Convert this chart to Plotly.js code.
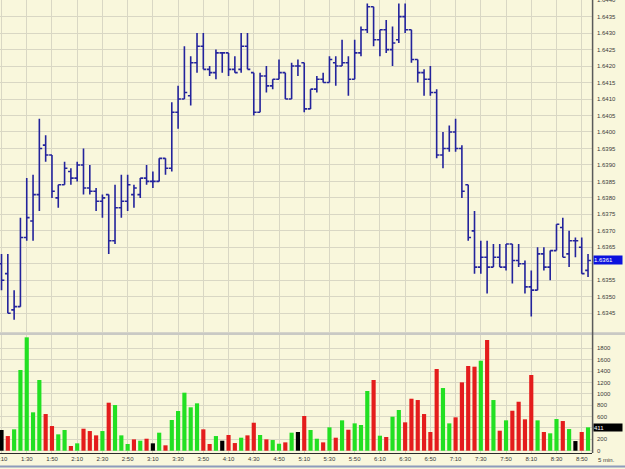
<!DOCTYPE html>
<html>
<head>
<meta charset="utf-8">
<script src="https://cdn.plot.ly/plotly-3.0.1.min.js"></script>
<style>
  html, body { margin: 0; padding: 0; background: #f9f7dc; }
  #chart { width: 625px; height: 469px; }
</style>
</head>
<body>
<div id="chart"></div>
<script>
// 5-minute bars
const times = [
  "1:10","1:15","1:20","1:25","1:30","1:35","1:40","1:45","1:50","1:55",
  "2:00","2:05","2:10","2:15","2:20","2:25","2:30","2:35","2:40","2:45",
  "2:50","2:55","3:00","3:05","3:10","3:15","3:20","3:25","3:30","3:35",
  "3:40","3:45","3:50","3:55","4:00","4:05","4:10","4:15","4:20","4:25",
  "4:30","4:35","4:40","4:45","4:50","4:55","5:00","5:05","5:10","5:15",
  "5:20","5:25","5:30","5:35","5:40","5:45","5:50","5:55","6:00","6:05",
  "6:10","6:15","6:20","6:25","6:30","6:35","6:40","6:45","6:50","6:55",
  "7:00","7:05","7:10","7:15","7:20","7:25","7:30","7:35","7:40","7:45",
  "7:50","7:55","8:00","8:05","8:10","8:15","8:20","8:25","8:30","8:35",
  "8:40","8:45","8:50","8:55"
];

const open = [
  1.6360,1.6357,1.6346,1.6347,1.6368,1.6373,1.6381,1.6396,1.6393,1.6380,
  1.6384,1.6388,1.6386,1.6390,1.6383,1.6382,1.6379,1.6381,1.6367,1.6377,
  1.6379,1.6381,1.6381,1.6386,1.6385,1.6385,1.6392,1.6389,1.6406,1.6410,
  1.6411,1.6421,1.6426,1.6419,1.6418,1.6424,1.6424,1.6419,1.6419,1.6426,
  1.6418,1.6406,1.6417,1.6414,1.6416,1.6418,1.6410,1.6420,1.6421,1.6407,
  1.6413,1.6416,1.6415,1.6421,1.6420,1.6421,1.6416,1.6424,1.6431,1.6438,
  1.6428,1.6431,1.6425,1.6428,1.6435,1.6431,1.6422,1.6418,1.6416,1.6412,
  1.6393,1.6395,1.6400,1.6395,1.6384,1.6370,1.6359,1.6362,1.6359,1.6362,
  1.6359,1.6366,1.6361,1.6360,1.6353,1.6352,1.6363,1.6359,1.6364,1.6371,
  1.6363,1.6367,1.6365,1.6358
];
const high = [
  1.6363,1.6363,1.6352,1.6374,1.6386,1.6387,1.6404,1.6399,1.6393,1.6384,
  1.6391,1.6389,1.6391,1.6395,1.6390,1.6383,1.6381,1.6381,1.6384,1.6387,
  1.6387,1.6384,1.6386,1.6390,1.6388,1.6392,1.6392,1.6409,1.6414,1.6426,
  1.6423,1.6430,1.6430,1.6420,1.6425,1.6424,1.6424,1.6423,1.6430,1.6430,
  1.6418,1.6418,1.6420,1.6416,1.6422,1.6418,1.6421,1.6422,1.6421,1.6413,
  1.6417,1.6418,1.6423,1.6423,1.6428,1.6423,1.6428,1.6432,1.6439,1.6438,
  1.6431,1.6434,1.6432,1.6439,1.6439,1.6431,1.6422,1.6419,1.6420,1.6413,
  1.6400,1.6402,1.6404,1.6396,1.6384,1.6376,1.6367,1.6367,1.6366,1.6366,
  1.6366,1.6366,1.6366,1.6361,1.6358,1.6365,1.6365,1.6364,1.6372,1.6374,
  1.6370,1.6368,1.6368,1.6363
];
const low = [
  1.6352,1.6345,1.6343,1.6347,1.6367,1.6367,1.6376,1.6391,1.6380,1.6377,
  1.6384,1.6384,1.6385,1.6381,1.6381,1.6376,1.6374,1.6363,1.6366,1.6374,
  1.6376,1.6377,1.6380,1.6384,1.6383,1.6385,1.6387,1.6388,1.6401,1.6410,
  1.6408,1.6418,1.6419,1.6417,1.6416,1.6418,1.6417,1.6418,1.6418,1.6419,
  1.6405,1.6406,1.6412,1.6413,1.6416,1.6410,1.6410,1.6417,1.6406,1.6407,
  1.6412,1.6415,1.6415,1.6414,1.6420,1.6411,1.6416,1.6423,1.6430,1.6426,
  1.6423,1.6424,1.6420,1.6427,1.6430,1.6421,1.6415,1.6411,1.6411,1.6392,
  1.6389,1.6394,1.6394,1.6380,1.6367,1.6357,1.6357,1.6351,1.6359,1.6359,
  1.6358,1.6354,1.6359,1.6351,1.6344,1.6352,1.6358,1.6355,1.6364,1.6362,
  1.6359,1.6362,1.6357,1.6356
];
const close = [
  1.6355,1.6345,1.6347,1.6368,1.6374,1.6381,1.6395,1.6393,1.6382,1.6384,
  1.6389,1.6386,1.6390,1.6383,1.6382,1.6379,1.6380,1.6367,1.6377,1.6379,
  1.6384,1.6383,1.6386,1.6385,1.6385,1.6392,1.6389,1.6406,1.6410,1.6412,
  1.6421,1.6426,1.6419,1.6418,1.6424,1.6424,1.6419,1.6418,1.6426,1.6419,
  1.6406,1.6417,1.6414,1.6416,1.6418,1.6410,1.6420,1.6420,1.6407,1.6413,
  1.6416,1.6415,1.6422,1.6420,1.6421,1.6416,1.6424,1.6431,1.6438,1.6428,
  1.6431,1.6425,1.6427,1.6435,1.6431,1.6422,1.6418,1.6416,1.6412,1.6393,
  1.6395,1.6400,1.6395,1.6382,1.6368,1.6359,1.6362,1.6359,1.6362,1.6359,
  1.6366,1.6361,1.6360,1.6353,1.6352,1.6363,1.6359,1.6364,1.6372,1.6362,
  1.6367,1.6367,1.6357,1.6361
];
const volume = [
  364,258,376,1419,1993,675,1243,645,434,288,
  364,83,130,387,346,270,346,844,803,270,
  118,200,176,211,130,317,95,540,698,1020,
  763,833,376,118,258,176,276,135,229,270,
  492,276,200,188,123,147,317,329,610,364,
  211,147,411,229,534,369,481,452,1050,1243,
  264,241,598,716,499,914,891,645,329,1436,
  1102,481,587,1202,1489,1477,1582,1946,891,352,
  534,703,861,552,1331,534,329,306,557,522,
  381,170,329,411
];

const priceTicks = [1.6345,1.6350,1.6355,1.6360,1.6365,1.6370,1.6375,1.6380,1.6385,1.6390,
                    1.6395,1.6400,1.6405,1.6410,1.6415,1.6420,1.6425,1.6430,1.6435,1.6440];
const volumeTicks = [0,200,400,600,800,1000,1200,1400,1600,1800];
const periodLabel = "5 min.";

// volume colour: close vs previous close
const UP = '#22e022', DOWN = '#e41c1c', FLAT = '#000000';
const volColors = close.map((c, i) => {
  if (i === 0) return FLAT;
  const d = Math.round((c - close[i - 1]) * 10000);
  return d > 0 ? UP : (d < 0 ? DOWN : FLAT);
});

const BG = '#f9f7dc';
const GRID = '#d9d7c4';
const TXT = '#3a3a3a';
const FONT = 'Liberation Sans, Arial, sans-serif';

const plotH = 453; // plot area height in px (t=0, b=16)
const toPaperY = px => (plotH - px) / plotH;
const toPaperX = px => px / 592;

const lastClose = close[close.length - 1];
const lastVol = volume[volume.length - 1];

// labels hidden behind the "last value" boxes keep their grid line but no text
const priceText = priceTicks.map(v =>
  Math.abs(v - lastClose) < 0.00015 ? '' : v.toFixed(4));
const volText = volumeTicks.map(v =>
  Math.abs(v - lastVol) < 60 ? '' : String(v));

const traces = [
  {
    type: 'ohlc',
    x: times, open: open, high: high, low: low, close: close,
    xaxis: 'x', yaxis: 'y',
    tickwidth: 0.45,
    increasing: { line: { color: '#23239c', width: 1.6 } },
    decreasing: { line: { color: '#23239c', width: 1.6 } },
    hoverinfo: 'skip',
    showlegend: false
  },
  {
    type: 'bar',
    x: times, y: volume,
    xaxis: 'x', yaxis: 'y2',
    marker: { color: volColors, line: { width: 0 } },
    hoverinfo: 'skip',
    showlegend: false
  }
];

const layout = {
  width: 625, height: 469,
  margin: { l: 0, r: 33, t: 0, b: 16, pad: 0 },
  paper_bgcolor: BG, plot_bgcolor: BG,
  font: { family: FONT, size: 6, color: TXT },
  bargap: 0.34,
  showlegend: false,
  xaxis: {
    type: 'category',
    range: [-0.24, 93.63],
    anchor: 'y2',
    tickmode: 'linear', tick0: 0, dtick: 4,
    showgrid: true, gridcolor: GRID, gridwidth: 1,
    ticks: '', showline: true, linecolor: '#2a2a2a', linewidth: 1,
    tickfont: { family: FONT, size: 6, color: TXT },
    rangeslider: { visible: false },
    zeroline: false, fixedrange: true
  },
  yaxis: {
    domain: [toPaperY(332), 1],
    range: [1.63393, 1.644005],
    side: 'right', anchor: 'x',
    tickmode: 'array', tickvals: priceTicks, ticktext: priceText,
    ticklabeloverflow: 'allow',
    showgrid: true, gridcolor: GRID, gridwidth: 1,
    ticks: '', showline: false, zeroline: false,
    ticklabelstandoff: 4,
    tickfont: { family: FONT, size: 6, color: TXT },
    fixedrange: true
  },
  yaxis2: {
    domain: [0, toPaperY(335)],
    range: [-40, 2034],
    side: 'right', anchor: 'x',
    tickmode: 'array', tickvals: volumeTicks, ticktext: volText,
    showgrid: true, gridcolor: GRID, gridwidth: 1,
    ticks: '', showline: false, zeroline: false,
    ticklabelstandoff: 4,
    tickfont: { family: FONT, size: 6, color: TXT },
    fixedrange: true
  },
  shapes: [
    // pane separator
    { type: 'rect', xref: 'paper', yref: 'paper',
      x0: 0, x1: toPaperX(625), y0: toPaperY(335), y1: toPaperY(332.3),
      fillcolor: '#c9c9c4', line: { width: 0 }, layer: 'above' },
    // right axis line
    { type: 'line', xref: 'paper', yref: 'paper',
      x0: 1.001, x1: 1.001, y0: 0, y1: 1,
      line: { color: '#5a5a5a', width: 1.5 }, layer: 'above' },
    // bottom frame line
    { type: 'line', xref: 'paper', yref: 'paper',
      x0: 0, x1: toPaperX(625), y0: toPaperY(466.5), y1: toPaperY(466.5),
      line: { color: '#8d9cbc', width: 2 } }
  ],
  annotations: [
    { xref: 'paper', yref: 'y', x: toPaperX(593), y: lastClose,
      xanchor: 'left', yanchor: 'middle', showarrow: false,
      text: lastClose.toFixed(4), align: 'left',
      font: { family: FONT, size: 6, color: '#ffffff' },
      bgcolor: '#0b12de', width: 28, height: 8, borderpad: 0 },
    { xref: 'paper', yref: 'y2', x: toPaperX(593), y: lastVol,
      xanchor: 'left', yanchor: 'middle', showarrow: false,
      text: String(lastVol), align: 'left',
      font: { family: FONT, size: 6, color: '#ffffff' },
      bgcolor: '#000000', width: 28, height: 7, borderpad: 0 },
    { xref: 'paper', yref: 'paper', x: toPaperX(596), y: toPaperY(459.5),
      xanchor: 'left', yanchor: 'middle', showarrow: false,
      text: periodLabel, font: { family: FONT, size: 6, color: TXT } }
  ]
};

Plotly.newPlot('chart', traces, layout, { displayModeBar: false, staticPlot: true });
</script>
</body>
</html>
